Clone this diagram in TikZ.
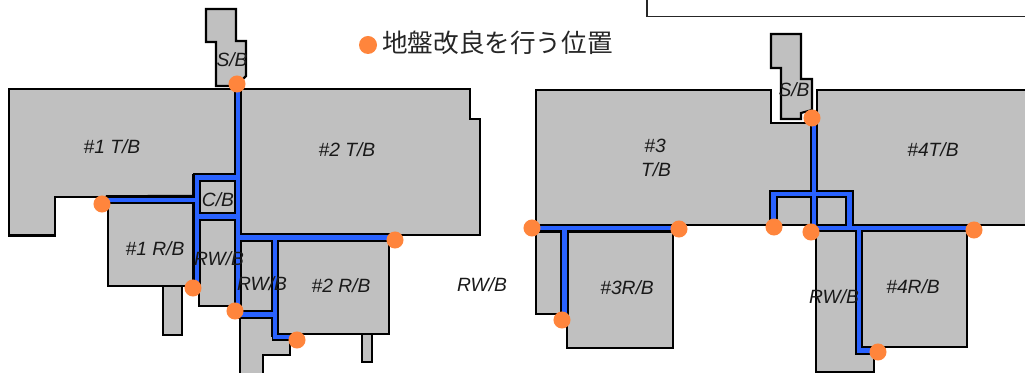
\documentclass[tikz,border=0pt]{standalone}
\usepackage{fontspec}
\setmainfont{Liberation Sans}
\newfontfamily\jpfont{Noto Sans CJK JP}[Scale=1]
\definecolor{bgrey}{RGB}{192,192,192}
\definecolor{bblue}{RGB}{41,98,255}
\definecolor{dotor}{RGB}{255,133,60}
\tikzset{
  bld/.style={fill=bgrey,draw=black,line width=1.6pt,line join=miter},
  bldthin/.style={fill=bgrey,draw=black,line width=1.1pt},
  band/.style={draw=bblue,line width=3.4pt,line cap=butt},
  casing/.style={draw=black,line width=6.4pt,line cap=butt},
  spot/.style={circle,fill=dotor,draw=none,minimum size=12.8pt,inner sep=0pt},
  lab/.style={font=\itshape\fontsize{14.4}{16}\selectfont,inner sep=0pt,text=black!90},
}
\begin{document}
\begin{tikzpicture}[x=0.75pt,y=-0.75pt]
\useasboundingbox (0,0) rectangle (1025,373);
% top-right frame
\draw[black!85,line width=1pt] (647,0) -- (647,16.5) -- (1025,16.5);
% Left group: buildings
\draw[bld] (206,9) -- (236,9) -- (236,41) -- (246,41) -- (246,76) -- (236,86) -- (216,86) -- (216,42) -- (206,42) -- cycle;
\fill[bgrey] (9,89) rectangle (237,197);
\fill[bgrey] (9,197) rectangle (55,235);
\draw[black,line width=1.6pt] (237,89) -- (9,89) -- (9,235.5) -- (55,235.5) -- (55,197) -- (193,197) -- (193,175) -- (237,175);
\draw[bld] (241,89) -- (470,89) -- (470,119) -- (480,119) -- (480,235) -- (241,235) -- cycle;
\draw[bldthin] (108,203) rectangle (193,286);
\draw[bldthin] (163,286) rectangle (182,335);
\draw[bldthin] (199,180) rectangle (236,214);
\draw[bldthin] (199,219) rectangle (236,306);
\draw[bldthin] (241,240) rectangle (272,311);
\draw[bldthin] (277,240) rectangle (389,334);
\draw[bldthin] (362,334) rectangle (372,362);
\fill[bgrey] (240,318) -- (273,318) -- (273,339) -- (290,339) -- (290,355) -- (263,355) -- (263,373) -- (240,373) -- cycle;
\draw[black,line width=1.1pt] (240,373) -- (240,318) -- (273,318) -- (273,339) -- (290,339) -- (290,355) -- (263,355) -- (263,373);
% Left group: trench
\draw[casing] (238,89) -- (238,311);
\draw[casing] (197,199) -- (106,199.5);
\draw[casing] (197,174.3) -- (197,288);
\draw[casing] (193,177.5) -- (238,177.5);
\draw[casing] (197,216.5) -- (238,216.5);
\draw[casing] (238,237.5) -- (392,237.5);
\draw[casing] (275,237.5) -- (275,337);
\draw[casing] (238,314.5) -- (275,314.5);
\draw[casing] (272,337) -- (292,337);
\draw[band] (238,89) -- (238,311);
\draw[band] (197,200) -- (106,200);
\draw[band] (197,175.2) -- (197,288);
\draw[band] (195,177.5) -- (238,177.5);
\draw[band] (197,216.5) -- (238,216.5);
\draw[band] (238,237.5) -- (392,237.5);
\draw[band] (275,237.5) -- (275,337);
\draw[band] (238,314.5) -- (275,314.5);
\draw[band] (273,337) -- (292,337);
% Right group: buildings
\fill[bgrey] (817,90) rectangle (1025,225);
\draw[black,line width=1.6pt] (1025,90) -- (817,90) -- (817,225) -- (1025,225);
\draw[bld] (536,90) -- (771,90) -- (771,123) -- (811,123) -- (811,225) -- (536,225) -- cycle;
\draw[bld] (771,34) -- (801,34) -- (801,79) -- (812,79) -- (812,110) -- (801,113) -- (801,119) -- (781,119) -- (781,68) -- (771,68) -- cycle;
\draw[bldthin] (536,232) rectangle (562,314);
\draw[bldthin] (567,232) rectangle (673,348);
\draw[bldthin] (816,231) -- (856,231) -- (856,353) -- (874,353) -- (874,372) -- (816,372) -- cycle;
\draw[bldthin] (862,231) rectangle (967,347);
% Right group: trench
\draw[casing] (534,228) -- (676,228);
\draw[casing] (564.5,228) -- (564.5,318);
\draw[casing] (814,118) -- (814,225);
\draw[casing,line join=miter] (773.5,225) -- (773.5,194) -- (849.5,194) -- (849.5,225);
\draw[casing] (811,228) -- (970,228);
\draw[casing,line join=miter] (859,228) -- (859,350.5) -- (876,350.5);
\draw[band] (534,228) -- (676,228);
\draw[band] (564.5,228) -- (564.5,318);
\draw[band] (814,118) -- (814,228);
\draw[band,line join=miter] (773.5,225) -- (773.5,194) -- (849.5,194) -- (849.5,228);
\draw[band] (811,228) -- (970,228);
\draw[band,line join=miter] (859,228) -- (859,350.5) -- (876,350.5);
% Spots
\node[spot] (s1) at (237,84) {};
\node[spot] (s2) at (102,204) {};
\node[spot] (s3) at (193,288) {};
\node[spot] (s4) at (235,311) {};
\node[spot] (s5) at (395,240) {};
\node[spot] (s6) at (297,340) {};
\node[spot] (s7) at (532,228) {};
\node[spot] (s8) at (679,229) {};
\node[spot] (s9) at (562,320) {};
\node[spot] (s10) at (774,227) {};
\node[spot] (s11) at (811,232) {};
\node[spot] (s12) at (812,118) {};
\node[spot] (s13) at (974,230) {};
\node[spot] (s14) at (878,352) {};
\node[spot,minimum size=13.5pt] (legdot) at (368,45) {};
\node[anchor=west,inner sep=0pt,font=\jpfont\fontsize{19.2}{21}\selectfont,text=black!85] (legend) at (382,43) {地盤改良を行う位置};
% Labels
\node[lab] (l1) at (112,147) {\#1 T/B};
\node[lab] (l2) at (232,60) {S/B};
\node[lab] (l3) at (347,150) {\#2 T/B};
\node[lab] (l4) at (218,200) {C/B};
\node[lab] (l5) at (155,249) {\#1 R/B};
\node[lab] (l6) at (219,259) {RW/B};
\node[lab] (l7) at (262,284) {RW/B};
\node[lab] (l8) at (341,286) {\#2 R/B};
\node[lab] (l9) at (482,285) {RW/B};
\node[lab] (l10) at (655,146) {\#3};
\node[lab] (l11) at (656,170) {T/B};
\node[lab] (l12) at (627,288) {\#3R/B};
\node[lab] (l13) at (933,150) {\#4T/B};
\node[lab] (l14) at (794,90) {S/B};
\node[lab] (l15) at (834,297) {RW/B};
\node[lab] (l16) at (913,287) {\#4R/B};
\end{tikzpicture}
\end{document}
